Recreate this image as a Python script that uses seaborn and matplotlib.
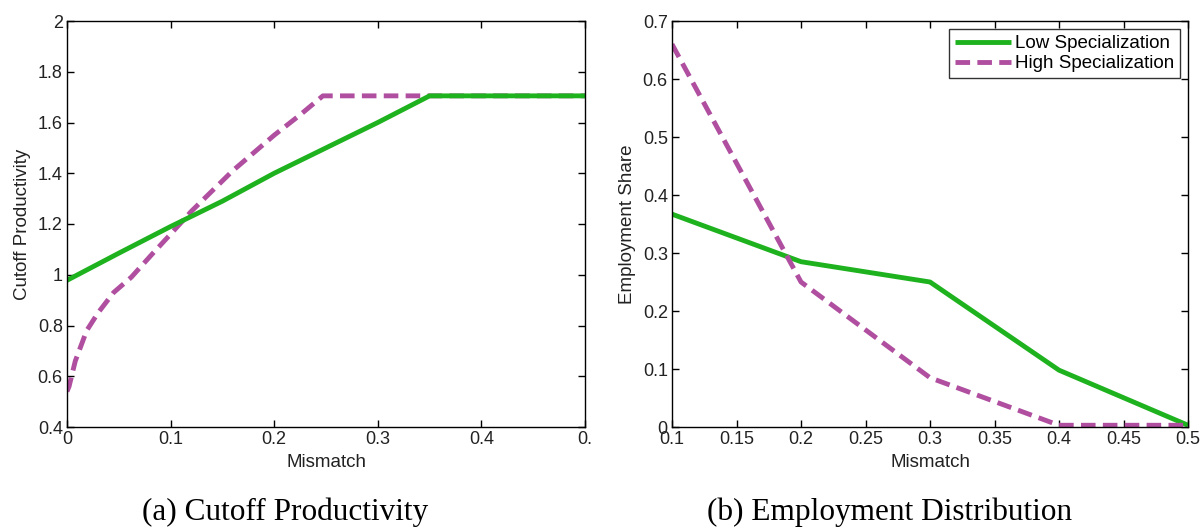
import matplotlib
matplotlib.use("Agg")
import matplotlib.pyplot as plt
import pandas as pd
import seaborn as sns

GREEN = "#1fb21f"
MAGENTA = "#b04fa0"

# panel (a): cutoff productivity vs mismatch
mis_low_a = [0.0, 0.05, 0.1, 0.15, 0.2, 0.25, 0.3, 0.35, 0.4, 0.45, 0.5]
cut_low = [0.978, 1.085, 1.19, 1.29, 1.40, 1.50, 1.60, 1.705, 1.705, 1.705, 1.705]
mis_high_a = [0.0, 0.002, 0.008, 0.019, 0.03, 0.045, 0.062, 0.083, 0.1, 0.12,
              0.14, 0.16, 0.18, 0.2, 0.225, 0.247, 0.3, 0.4, 0.5]
cut_high = [0.54, 0.56, 0.66, 0.78, 0.85, 0.93, 0.99, 1.085, 1.16, 1.25,
            1.33, 1.41, 1.48, 1.55, 1.63, 1.705, 1.705, 1.705, 1.705]

# panel (b): employment share vs mismatch
mis_b = [0.1, 0.2, 0.3, 0.4, 0.5]
emp_low = [0.367, 0.285, 0.25, 0.098, 0.003]
emp_high = [0.66, 0.25, 0.085, 0.003, 0.003]

sns.set_theme(style="white")
plt.rcParams.update({
    "font.family": ["Liberation Sans", "DejaVu Sans"],
    "font.size": 13,
    "axes.labelsize": 13.5,
    "axes.edgecolor": "black",
    "axes.linewidth": 1.0,
    "xtick.color": "black",
    "ytick.color": "black",
    "axes.labelcolor": "#222222",
    "text.color": "black",
})

fig = plt.figure(figsize=(12.04, 5.29), dpi=100)
ax1 = fig.add_axes([67 / 1204, 1 - 427 / 529, 518 / 1204, 406 / 529])
ax2 = fig.add_axes([672 / 1204, 1 - 427 / 529, 516 / 1204, 406 / 529])

df_a_low = pd.DataFrame({"x": mis_low_a, "y": cut_low})
df_a_high = pd.DataFrame({"x": mis_high_a, "y": cut_high})
sns.lineplot(data=df_a_high, x="x", y="y", ax=ax1, color=MAGENTA, lw=3.5,
             linestyle=(0, (3, 1.5)), sort=False)
sns.lineplot(data=df_a_low, x="x", y="y", ax=ax1, color=GREEN, lw=3.5, sort=False)
ax1.set_xlim(0, 0.5)
ax1.set_ylim(0.4, 2.0)
ax1.set_xticks([0, 0.1, 0.2, 0.3, 0.4, 0.5])
ax1.set_xticklabels(["0", "0.1", "0.2", "0.3", "0.4", "0."])
ax1.set_yticks([0.4, 0.6, 0.8, 1.0, 1.2, 1.4, 1.6, 1.8, 2.0])
ax1.set_yticklabels(["0.4", "0.6", "0.8", "1", "1.2", "1.4", "1.6", "1.8", "2"])
ax1.set_xlabel("Mismatch", labelpad=4)
ax1.set_ylabel("Cutoff Productivity", labelpad=5)

df_b = pd.DataFrame({
    "x": mis_b * 2,
    "y": emp_low + emp_high,
    "s": ["Low Specialization"] * len(mis_b) + ["High Specialization"] * len(mis_b),
})
sns.lineplot(data=df_b, x="x", y="y", hue="s", style="s", ax=ax2,
             palette=[GREEN, MAGENTA], dashes=[(1, 0), (3, 1.5)], lw=3.5)
ax2.set_xlim(0.1, 0.5)
ax2.set_ylim(0, 0.7)
ax2.set_xticks([0.1, 0.15, 0.2, 0.25, 0.3, 0.35, 0.4, 0.45, 0.5])
ax2.set_xticklabels(["0.1", "0.15", "0.2", "0.25", "0.3", "0.35", "0.4", "0.45", "0.5"])
ax2.set_yticks([0, 0.1, 0.2, 0.3, 0.4, 0.5, 0.6, 0.7])
ax2.set_yticklabels(["0", "0.1", "0.2", "0.3", "0.4", "0.5", "0.6", "0.7"])
ax2.set_xlabel("Mismatch", labelpad=4)
ax2.set_ylabel("Employment Share", labelpad=5)
leg = ax2.legend(loc="upper right", frameon=True, fancybox=False, fontsize=13.5,
                 handlelength=3.0, handletextpad=0.2, borderpad=0.3,
                 labelspacing=0.15, borderaxespad=0.45)
leg.get_frame().set_edgecolor("black")
leg.get_frame().set_linewidth(1.0)

for ax in (ax1, ax2):
    for sp in ax.spines.values():
        sp.set_visible(True)
        sp.set_color("black")
    ax.tick_params(axis="both", which="major", direction="in", length=5, width=1,
                   top=True, right=True, bottom=True, left=True,
                   pad=3, labelsize=13, labelcolor="#222222")

fig.text(285 / 1204, 1 - 520 / 529, "(a) Cutoff Productivity", ha="center",
         va="baseline", fontsize=22.5, family=["Liberation Serif", "DejaVu Serif"])
fig.text(890 / 1204, 1 - 520 / 529, "(b) Employment Distribution", ha="center",
         va="baseline", fontsize=22.5, family=["Liberation Serif", "DejaVu Serif"])

fig.savefig("out.png", dpi=100)
